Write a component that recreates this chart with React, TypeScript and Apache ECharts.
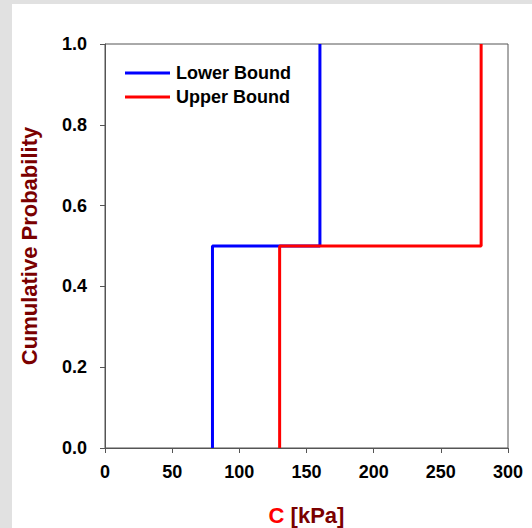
import React, { useEffect, useRef } from "react";
import * as echarts from "echarts";

// Step-shaped cumulative distribution bounds for cohesion C
const lowerX = [80, 80, 160, 160];
const lowerP = [0, 0.5, 0.5, 1.0];
const upperX = [130, 130, 280, 280];
const upperP = [0, 0.5, 0.5, 1.0];
const seriesNames = ["Lower Bound", "Upper Bound"];
const xTicks = { min: 0, max: 300, interval: 50 };
const yTicks = { min: 0, max: 1, interval: 0.2 };

const FONT = "Arial, 'Liberation Sans', sans-serif";

export default function App() {
  const ref = useRef<HTMLDivElement>(null);

  useEffect(() => {
    document.body.style.margin = "0";
    if (!ref.current) return;
    const chart = echarts.init(ref.current, undefined, { renderer: "svg" });
    const pair = (xs: number[], ys: number[]) => xs.map((x, i) => [x, ys[i]]);

    chart.setOption({
      animation: false,
      backgroundColor: "#e1e1e1",
      graphic: [
        {
          type: "rect",
          z: -10,
          silent: true,
          shape: { x: 12, y: 4, width: 520, height: 524 },
          style: { fill: "#ffffff" },
        },
      ],
      grid: {
        left: 105,
        top: 44,
        right: 24,
        bottom: 80,
        outerBoundsMode: "none",
        containLabel: false,
        show: true,
        borderColor: "#555555",
        borderWidth: 1,
        backgroundColor: "transparent",
      },
      legend: {
        orient: "vertical",
        left: 120,
        top: 59,
        itemWidth: 45,
        itemHeight: 3,
        itemGap: 6,
        icon: "rect",
        textStyle: {
          fontFamily: FONT,
          fontWeight: "bold",
          fontSize: 18,
          color: "#000000",
          lineHeight: 18,
          padding: [0, 0, 0, 1],
        },
        data: seriesNames,
      },
      xAxis: {
        type: "value",
        min: xTicks.min,
        max: xTicks.max,
        interval: xTicks.interval,
        name: "{a|C}{b| [kPa]}",
        nameLocation: "middle",
        nameGap: 56,
        nameTextStyle: {
          lineHeight: 22,
          rich: {
            a: { fontFamily: FONT, fontWeight: "bold", fontSize: 22, lineHeight: 22, color: "#ff0000" },
            b: { fontFamily: FONT, fontWeight: "bold", fontSize: 22, lineHeight: 22, color: "#7a0000" },
          },
        },
        axisLine: { show: true, lineStyle: { color: "#555555", width: 1 } },
        axisTick: { show: true, inside: false, length: 5, lineStyle: { color: "#555555" } },
        axisLabel: {
          margin: 15,
          fontFamily: FONT,
          fontWeight: "bold",
          fontSize: 18,
          color: "#000000",
        },
        splitLine: { show: false },
      },
      yAxis: {
        type: "value",
        min: yTicks.min,
        max: yTicks.max,
        interval: yTicks.interval,
        name: "Cumulative Probability",
        nameLocation: "middle",
        nameGap: 65,
        nameRotate: 90,
        nameTextStyle: {
          fontFamily: FONT,
          fontWeight: "bold",
          fontSize: 22,
          color: "#7a0000",
        },
        axisLine: { show: true, lineStyle: { color: "#555555", width: 1 } },
        axisTick: { show: true, inside: false, length: 5, lineStyle: { color: "#555555" } },
        axisLabel: {
          margin: 18,
          fontFamily: FONT,
          fontWeight: "bold",
          fontSize: 18,
          color: "#000000",
          formatter: (v: number) => v.toFixed(1),
        },
        splitLine: { show: false },
      },
      series: [
        {
          name: seriesNames[0],
          type: "line",
          data: pair(lowerX, lowerP),
          showSymbol: false,
          symbol: "none",
          color: "#0000ff",
          lineStyle: { color: "#0000ff", width: 3 },
          z: 2,
        },
        {
          name: seriesNames[1],
          type: "line",
          data: pair(upperX, upperP),
          showSymbol: false,
          symbol: "none",
          color: "#ff0000",
          lineStyle: { color: "#ff0000", width: 3 },
          z: 3,
        },
      ],
    });

    return () => chart.dispose();
  }, []);

  return <div ref={ref} style={{ width: 532, height: 528 }} />;
}
